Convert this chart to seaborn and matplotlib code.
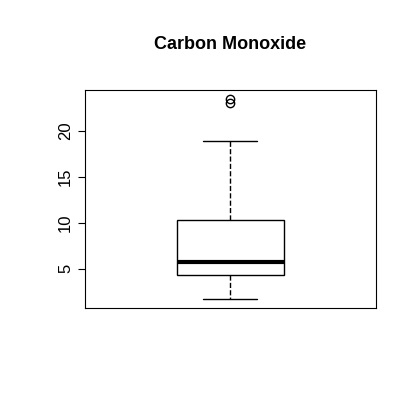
import matplotlib
matplotlib.use("Agg")
import matplotlib.pyplot as plt
import seaborn as sns
import pandas as pd

co_values = [1.7, 2.5, 3.2, 3.9, 4.35, 4.6, 5.0, 5.4, 5.8, 6.5, 7.5, 9.0, 10.33, 12.5, 18.9, 23.0, 23.5]
yticks = [5, 10, 15, 20]

sns.set_style("white")
plt.rcParams['font.family'] = ['Liberation Sans', 'DejaVu Sans']
fig = plt.figure(figsize=(4.2, 4.2), dpi=100)
ax = fig.add_axes([0.202, 0.267, 0.693, 0.519])
df = pd.DataFrame({"co": co_values})
sns.boxplot(data=df, y="co", ax=ax, width=0.37, color="white", linecolor="black", linewidth=1,
            whis=1.5,
            whiskerprops=dict(linestyle="--", linewidth=1),
            medianprops=dict(linewidth=3, color="black"),
            flierprops=dict(marker="o", markerfacecolor="none", markeredgecolor="black", markersize=6))
ax.set_xlim(-0.5, 0.5)
ax.set_ylim(0.76, 24.46)
ax.set_yticks(yticks)
ax.set_yticklabels([str(t) for t in yticks], rotation=90, va="center", fontsize=12, color="black")
ax.set_xticks([])
ax.set_xlabel("")
ax.set_ylabel("")
for s in ax.spines.values():
    s.set_visible(True); s.set_color("black"); s.set_linewidth(0.8)
ax.tick_params(axis="y", left=True, length=5, color="black")
fig.text(0.548, 0.893, "Carbon Monoxide", ha="center", va="center", fontsize=13, fontweight="bold", color="black")
fig.savefig("out.png", dpi=100, facecolor="white")
